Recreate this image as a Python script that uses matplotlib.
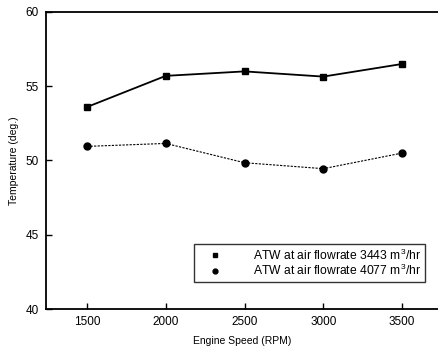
import matplotlib
matplotlib.use("Agg")
from matplotlib import pyplot as plt
from matplotlib.legend_handler import HandlerLine2D

speed = [1500, 2000, 2500, 3000, 3500]
temp_3443 = [53.6, 55.7, 56.0, 55.65, 56.5]
temp_4077 = [50.95, 51.15, 49.85, 49.45, 50.5]
label_3443 = 'ATW at air flowrate 3443 m$^3$/hr'
label_4077 = 'ATW at air flowrate 4077 m$^3$/hr'

plt.rcParams['font.family'] = ['Liberation Sans', 'DejaVu Sans']
plt.rcParams['mathtext.fontset'] = 'custom'
plt.rcParams['mathtext.rm'] = 'Liberation Sans'

fig = plt.figure(figsize=(4.38, 3.47), dpi=100)
ax = fig.add_axes([46/438, 38/347, 392/438, 297/347])

l1, = ax.plot(speed, temp_3443, color='black', lw=1.3, marker='s', ms=5, label=label_3443)
l2, = ax.plot(speed, temp_4077, color='black', lw=0.8, ls=(0, (2, 1.2)), marker='o', ms=5, label=label_4077)

ax.set_xlim(1240, 3728)
ax.set_ylim(40, 60)
ax.set_xticks(speed)
ax.set_yticks([40, 45, 50, 55, 60])
ax.tick_params(direction='in', length=4, width=1, labelsize=8.5, pad=5)
ax.spines['right'].set_visible(False)
for s in ['left', 'bottom', 'top']:
    ax.spines[s].set_linewidth(1.3)

ax.set_xlabel('Engine Speed (RPM)', fontsize=7.5, labelpad=6)
ax.set_ylabel('Temperature (deg.)', fontsize=7.5, labelpad=5)

hm = {l1: HandlerLine2D(xpad=1.92), l2: HandlerLine2D(xpad=1.92)}
leg = ax.legend(loc='lower right', bbox_to_anchor=(0.967, 0.091), borderaxespad=0,
                fontsize=8.7, frameon=True, fancybox=False, edgecolor='black',
                handlelength=1.0, handletextpad=3.6, borderpad=0.3,
                labelspacing=0.05, markerscale=0.7, handler_map=hm)
leg.get_frame().set_linewidth(1.0)
for h in leg.legend_handles:
    h.set_linestyle('none')

fig.savefig('out.png', dpi=100)
